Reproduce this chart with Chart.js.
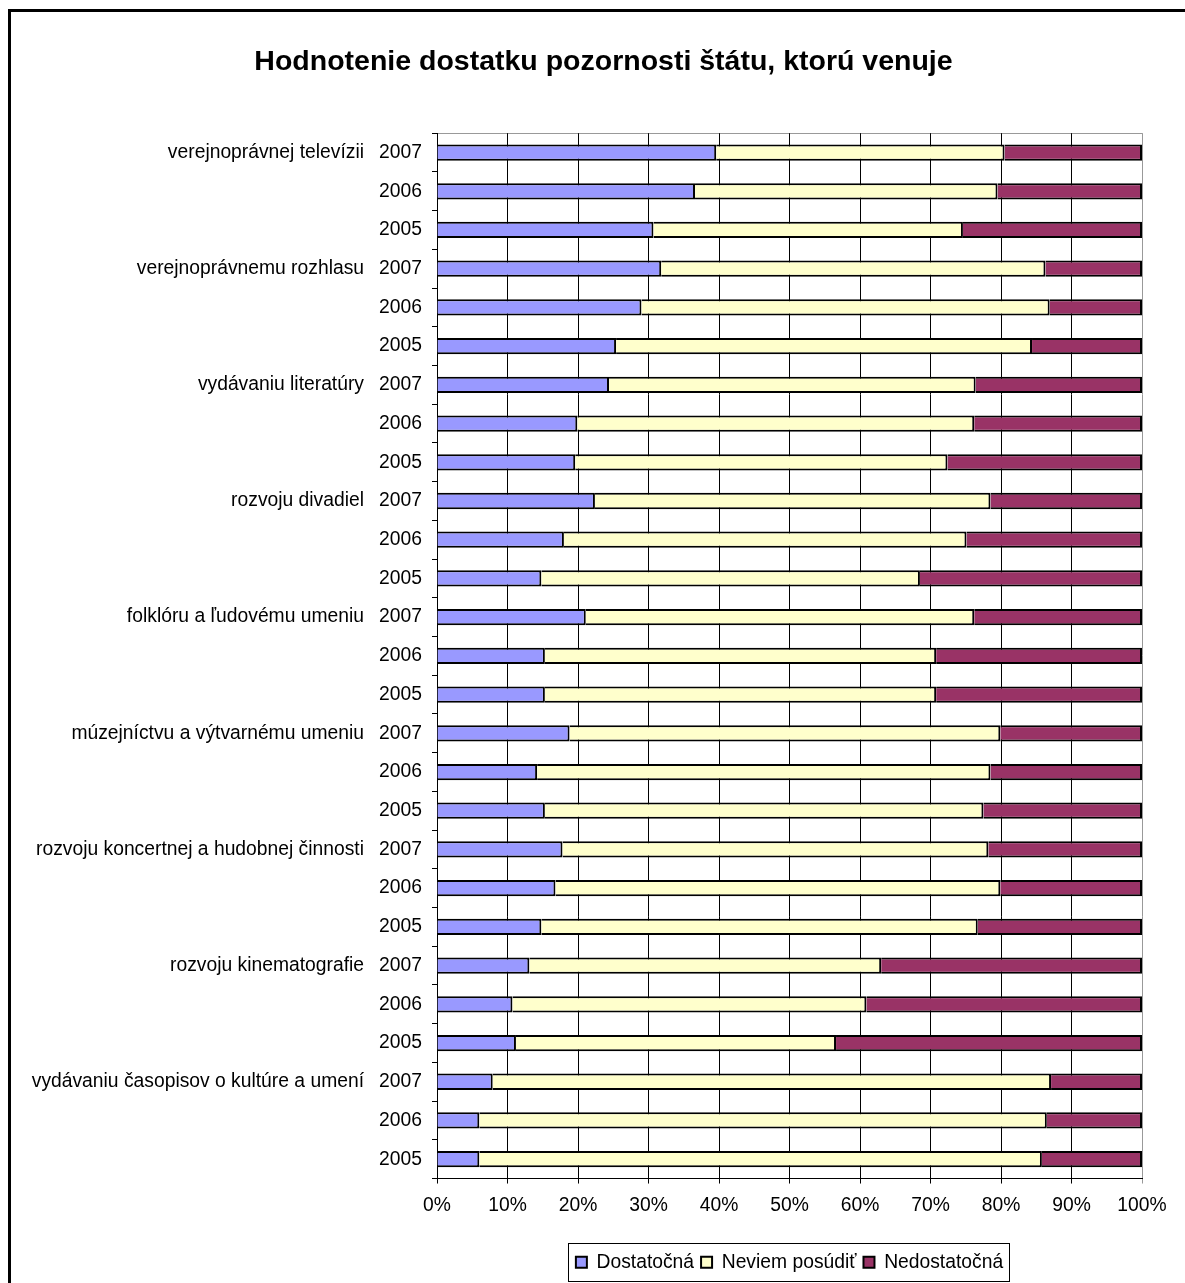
<!DOCTYPE html>
<html>
<head>
<meta charset="utf-8">
<script src="https://cdn.jsdelivr.net/npm/chart.js@4/dist/chart.umd.min.js"></script>
<style>
  html, body { margin: 0; padding: 0; background: #fff; }
  #wrap { position: relative; width: 1185px; height: 1283px; }
</style>
</head>
<body>
<div id="wrap"><canvas id="c" width="1185" height="1283"></canvas></div>
<script>
const chartTitle = 'Hodnotenie dostatku pozornosti štátu, ktorú venuje';
const groups = [
  'verejnoprávnej televízii',
  'verejnoprávnemu rozhlasu',
  'vydávaniu literatúry',
  'rozvoju divadiel',
  'folklóru a ľudovému umeniu',
  'múzejníctvu a výtvarnému umeniu',
  'rozvoju koncertnej a hudobnej činnosti',
  'rozvoju kinematografie',
  'vydávaniu časopisov o kultúre a umení'
];
const years = ['2007', '2006', '2005'];
const seriesNames = ['Dostatočná', 'Neviem posúdiť', 'Nedostatočná'];
const dostatocna = [39.6, 36.6, 30.7, 31.8, 29.0, 25.4, 24.4, 19.9, 19.6, 22.4, 18.0, 14.8, 21.1, 15.3, 15.3, 18.8, 14.2, 15.3, 17.8, 16.8, 14.8, 13.1, 10.7, 11.2, 7.9, 6.0, 6.0];
const neviem     = [40.9, 42.9, 43.9, 54.5, 57.9, 59.0, 52.0, 56.3, 52.8, 56.1, 57.1, 53.7, 55.1, 55.5, 55.5, 61.1, 64.3, 62.2, 60.4, 63.1, 61.9, 49.9, 50.2, 45.4, 79.2, 80.5, 79.8];
const nedostatocna = [19.5, 20.5, 25.4, 13.7, 13.1, 15.6, 23.6, 23.8, 27.6, 21.5, 24.9, 31.5, 23.8, 29.2, 29.2, 20.1, 21.5, 22.5, 21.8, 20.1, 23.3, 37.0, 39.1, 43.4, 12.9, 13.5, 14.2];
const xTicks = [0, 10, 20, 30, 40, 50, 60, 70, 80, 90, 100];

const labels = [];
groups.forEach(() => years.forEach(y => labels.push(y)));

const FONT = '"Liberation Sans", Arial, sans-serif';
const FS = 19.3;

const framePlugin = {
  id: 'frame',
  beforeDraw(chart) {
    const ctx = chart.ctx;
    ctx.save();
    ctx.fillStyle = '#fff';
    ctx.fillRect(0, 0, chart.width, chart.height);
    ctx.strokeStyle = '#000';
    ctx.lineWidth = 3;
    ctx.beginPath();
    ctx.moveTo(9.5, 1300);
    ctx.lineTo(9.5, 10.5);
    ctx.lineTo(1200, 10.5);
    ctx.stroke();
    const a = chart.chartArea;
    ctx.strokeStyle = '#999';
    ctx.lineWidth = 1;
    ctx.beginPath();
    ctx.moveTo(Math.round(a.left) + 0.5, Math.round(a.top) + 0.5);
    ctx.lineTo(Math.round(a.right) + 0.5, Math.round(a.top) + 0.5);
    ctx.stroke();
    ctx.restore();
  },
  afterDraw(chart) {
    const ctx = chart.ctx;
    const y = chart.scales.y;
    ctx.save();
    ctx.font = FS + 'px ' + FONT;
    ctx.fillStyle = '#000';
    ctx.textAlign = 'right';
    ctx.textBaseline = 'middle';
    groups.forEach((g, i) => {
      ctx.fillText(g, 364, y.getPixelForValue(i * years.length));
    });
    // legend frame
    const lg = chart.legend;
    if (lg && lg.legendHitBoxes && lg.legendHitBoxes.length) {
      const hb = lg.legendHitBoxes;
      let l = Infinity, r = -Infinity, t = Infinity, b = -Infinity;
      hb.forEach(h => { l = Math.min(l, h.left); r = Math.max(r, h.left + h.width); t = Math.min(t, h.top); b = Math.max(b, h.top + h.height); });
      const cy = (t + b) / 2;
      ctx.strokeStyle = '#000';
      ctx.lineWidth = 1;
      ctx.strokeRect(Math.round(l - 8) + 0.5, Math.round(cy - 19) + 0.5, Math.round(r - l + 14), 38);
    }
    ctx.restore();
  }
};

new Chart(document.getElementById('c'), {
  type: 'bar',
  data: {
    labels: labels,
    datasets: [
      { label: seriesNames[0], data: dostatocna, backgroundColor: '#9999FF', borderColor: '#000', borderWidth: 2 },
      { label: seriesNames[1], data: neviem, backgroundColor: '#FFFFCC', borderColor: '#000', borderWidth: 2 },
      { label: seriesNames[2], data: nedostatocna, backgroundColor: '#993366', borderColor: '#000', borderWidth: 2 }
    ]
  },
  plugins: [framePlugin],
  options: {
    indexAxis: 'y',
    responsive: false,
    animation: false,
    devicePixelRatio: 1,
    datasets: { bar: { categoryPercentage: 0.42, barPercentage: 1 } },
    layout: { padding: { left: 65, right: 43, top: 0, bottom: 1 } },
    scales: {
      x: {
        stacked: true,
        min: 0, max: 100,
        afterBuildTicks(scale) { scale.ticks = xTicks.map(v => ({ value: v })); },
        afterFit(scale) { scale.height += 17; },
        ticks: { font: { family: FONT, size: FS }, color: '#000', padding: 11, maxRotation: 0, callback: v => v + '%' },
        grid: {
          color: ctx => (ctx.tick && ctx.tick.value === 100) ? '#999' : '#000',
          lineWidth: 1, tickLength: 5, drawTicks: true
        },
        border: { display: true, color: '#000', width: 1 }
      },
      y: {
        stacked: true,
        afterFit(scale) { scale.width = 372; },
        ticks: { font: { family: FONT, size: FS }, color: '#000', padding: 10, autoSkip: false },
        grid: { drawOnChartArea: false, drawTicks: true, tickLength: 5, offset: true, color: '#000' },
        border: { display: true, color: '#000', width: 1 }
      }
    },
    plugins: {
      title: {
        display: true,
        text: chartTitle,
        color: '#000',
        font: { family: FONT, size: 28.5, weight: 'bold' },
        padding: { top: 45, bottom: 54 }
      },
      legend: {
        position: 'bottom',
        fullSize: false,
        labels: {
          font: { family: FONT, size: FS },
          color: '#000',
          boxWidth: 11, boxHeight: 11,
          padding: 7
        }
      },
      tooltip: { enabled: false }
    }
  }
});
</script>
</body>
</html>
